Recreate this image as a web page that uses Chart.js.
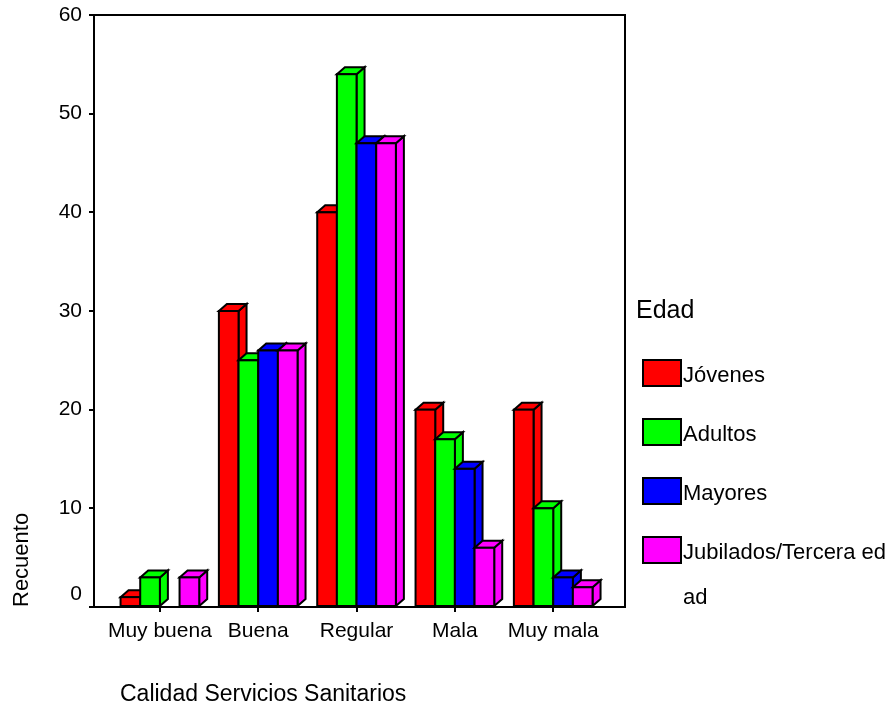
<!DOCTYPE html>
<html>
<head>
<meta charset="utf-8">
<script src="https://cdn.jsdelivr.net/npm/chart.js@4.4.1/dist/chart.umd.min.js"></script>
<style>
    body { margin: 0; background: #fff; font-family: "Liberation Sans", Arial, sans-serif; }
    #wrap { position: relative; width: 893px; height: 713px; }
    #legendTitle { position: absolute; left: 636px; top: 297px; font-size: 25px; line-height: 25px; color: #000; }
    .item { position: absolute; left: 642px; width: 250px; height: 90px; }
    .item .box { position: absolute; left: 0; top: 0; width: 40px; height: 28px; box-sizing: border-box; border: 2px solid #000; }
    .item .txt { position: absolute; left: 41px; top: -7px; width: 210px; font-size: 22px; line-height: 45px; color: #000; word-break: break-all; }
</style>
</head>
<body>
<div id="wrap">
    <canvas id="chart" width="893" height="713"></canvas>
    <div id="legendTitle">Edad</div>
    <div id="legend"></div>
</div>
<script>
const categories = ['Muy buena', 'Buena', 'Regular', 'Mala', 'Muy mala'];
const groups = ['Jóvenes', 'Adultos', 'Mayores', 'Jubilados/Tercera edad'];
const jovenes = [1, 30, 40, 20, 20];
const adultos = [3, 25, 54, 17, 10];
const mayores = [0, 26, 47, 14, 3];
const jubilados = [3, 26, 47, 6, 2];
const yTicks = [0, 10, 20, 30, 40, 50, 60];
const colors = ['#ff0000', '#00ff00', '#0000ff', '#ff00ff'];

const DX = 8, DY = 7;

Chart.defaults.font.family = '"Liberation Sans", Arial, sans-serif';
Chart.defaults.color = '#000';

// draws the extruded side/top faces, then the front again so later bars overlap earlier ones
const depthBars = {
    id: 'depthBars',
    afterDatasetsDraw(chart) {
        const ctx = chart.ctx;
        ctx.save();
        ctx.lineWidth = 2;
        ctx.strokeStyle = '#000';
        for (let j = 0; j < categories.length; j++) {
            chart.data.datasets.forEach((ds, i) => {
                if (!ds.data[j].y) return;
                const bar = chart.getDatasetMeta(i).data[j];
                const { x, y, base, width } = bar.getProps(['x', 'y', 'base', 'width'], true);
                const l = x - width / 2, r = x + width / 2;
                ctx.fillStyle = colors[i];
                ctx.beginPath();
                ctx.moveTo(r, base);
                ctx.lineTo(r + DX, base - DY);
                ctx.lineTo(r + DX, y - DY);
                ctx.lineTo(r, y);
                ctx.closePath();
                ctx.fill();
                ctx.stroke();
                ctx.beginPath();
                ctx.moveTo(l, y);
                ctx.lineTo(l + DX, y - DY);
                ctx.lineTo(r + DX, y - DY);
                ctx.lineTo(r, y);
                ctx.closePath();
                ctx.fill();
                ctx.stroke();
                ctx.fillRect(l, y, width, base - y);
                ctx.strokeRect(l, y, width, base - y);
            });
        }
        ctx.restore();
    },
    afterDraw(chart) {
        const { ctx, chartArea: a } = chart;
        ctx.save();
        ctx.lineWidth = 2;
        ctx.strokeStyle = '#000';
        ctx.strokeRect(a.left, a.top, a.right - a.left, a.bottom - a.top);
        ctx.fillStyle = '#000';
        ctx.font = '23px "Liberation Sans", Arial, sans-serif';
        ctx.textBaseline = 'alphabetic';
        ctx.fillText('Calidad Servicios Sanitarios', 120, 701);
        ctx.restore();
    }
};

const series = [jovenes, adultos, mayores, jubilados];

new Chart(document.getElementById('chart'), {
    type: 'bar',
    data: {
        datasets: series.map((vals, i) => ({
            label: groups[i],
            data: vals.map((v, k) => ({ x: k, y: v })),
            backgroundColor: colors[i],
            borderColor: '#000',
            borderWidth: 2,
            categoryPercentage: 0.8,
            barPercentage: 1.0
        }))
    },
    options: {
        responsive: false,
        animation: false,
        layout: { padding: { left: 0, top: 15, right: 268, bottom: 0 } },
        plugins: { legend: { display: false }, tooltip: { enabled: false } },
        scales: {
            x: {
                type: 'linear',
                offset: false,
                min: -0.67,
                max: 4.73,
                afterBuildTicks: s => { s.ticks = categories.map((_, i) => ({ value: i })); },
                afterFit: s => { s.height = 106; },
                ticks: { callback: v => categories[v], font: { size: 21 }, padding: 7, maxRotation: 0, autoSkip: false },
                grid: { display: true, offset: false, drawOnChartArea: false, drawTicks: true, tickLength: 5, color: '#000', lineWidth: 2 },
                border: { display: true, color: '#000', width: 2 }
            },
            y: {
                min: 0,
                max: 60,
                afterBuildTicks: s => { s.ticks = yTicks.map(v => ({ value: v })); },
                afterFit: s => { s.width = 94; s.paddingTop = 0; },
                // the zero label sits a little above its tick in the original
                ticks: { font: { size: 21 }, padding: 7, callback: v => v === 0 ? ['0', ''] : String(v) },
                grid: { display: true, drawOnChartArea: false, drawTicks: true, tickLength: 5, color: '#000', lineWidth: 2 },
                border: { display: true, color: '#000', width: 2 },
                title: { display: true, text: 'Recuento', align: 'start', font: { size: 22 }, padding: { top: 9, bottom: 0 } }
            }
        }
    },
    plugins: [depthBars]
});

const legend = document.getElementById('legend');
groups.forEach((g, i) => {
    const item = document.createElement('div');
    item.className = 'item';
    item.style.top = (359 + i * 59) + 'px';
    item.innerHTML = '<div class="box" style="background:' + colors[i] + '"></div><div class="txt">' + g + '</div>';
    legend.appendChild(item);
});
</script>
</body>
</html>
